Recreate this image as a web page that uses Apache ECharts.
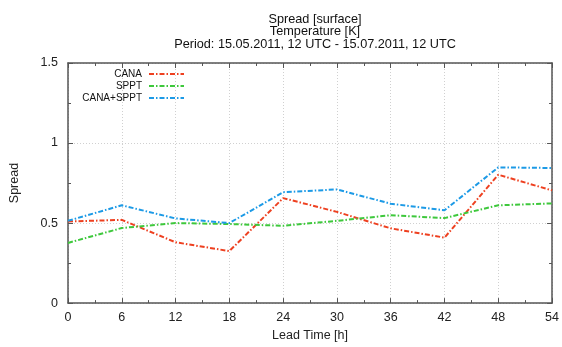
<!DOCTYPE html>
<html><head><meta charset="utf-8">
<script src="https://cdn.jsdelivr.net/npm/echarts@6/dist/echarts.min.js"></script>
<style>html,body{margin:0;padding:0;background:#fff}#c{width:562px;height:347px}</style>
</head><body><div id="c"></div>
<script>
const leadTimes = [0, 6, 12, 18, 24, 30, 36, 42, 48, 54];
const cana = [0.51, 0.52, 0.38, 0.325, 0.656, 0.57, 0.467, 0.409, 0.802, 0.704];
const sppt = [0.376, 0.469, 0.50, 0.494, 0.483, 0.514, 0.549, 0.531, 0.611, 0.623];
const canaSppt = [0.514, 0.611, 0.529, 0.50, 0.693, 0.71, 0.621, 0.58, 0.848, 0.844];
const seriesNames = ['CANA', 'SPPT', 'CANA+SPPT'];
const colors = ['#ee4020', '#3ec83c', '#1c9ae6'];
const titleLines = ['Spread [surface]', 'Temperature [K]', 'Period: 15.05.2011, 12 UTC - 15.07.2011, 12 UTC'];

const font = 'Liberation Sans, Arial, sans-serif';
const chart = echarts.init(document.getElementById('c'));
const pairs = arr => leadTimes.map((t, i) => [t, arr[i]]);
const dash = [5, 2, 1.5, 2];
const axisCol = '#555';
function mkX(pos, labels) {
  return {
    type: 'value', min: 0, max: 54, interval: 6, position: pos,
    name: labels ? 'Lead Time [h]' : '', nameLocation: 'middle', nameGap: 25,
    nameTextStyle: { fontFamily: font, fontSize: 12.5, color: '#222' },
    axisLine: { show: true, onZero: false, lineStyle: { color: axisCol, width: 1.5 } },
    axisTick: { show: true, inside: true, length: 5, lineStyle: { color: axisCol } },
    minorTick: { show: true, splitNumber: 2, length: 3, lineStyle: { color: axisCol } },
    axisLabel: { show: labels, fontFamily: font, fontSize: 12.5, color: '#222', margin: 8 },
    splitLine: { show: labels, lineStyle: { type: [1, 2], color: '#d0d0d0' } }
  };
}
function mkY(pos, labels) {
  return {
    type: 'value', min: 0, max: 1.5, interval: 0.5, position: pos,
    name: labels ? 'Spread' : '', nameLocation: 'middle', nameGap: 47,
    nameTextStyle: { fontFamily: font, fontSize: 12.5, color: '#222' },
    axisLine: { show: true, onZero: false, lineStyle: { color: axisCol, width: 1.5 } },
    axisTick: { show: true, inside: true, length: 5, lineStyle: { color: axisCol } },
    minorTick: { show: true, splitNumber: 2, length: 3, lineStyle: { color: axisCol } },
    axisLabel: { show: labels, fontFamily: font, fontSize: 12.5, color: '#222', margin: 10 },
    splitLine: { show: labels, lineStyle: { type: [1, 2], color: '#d0d0d0' } }
  };
}
const data = [cana, sppt, canaSppt];
const legendTops = [69, 81, 93];
chart.setOption({
  animation: false,
  textStyle: { fontFamily: font },
  title: {
    text: titleLines.join('\n'), left: 310, top: 8, textAlign: 'center',
    textStyle: { fontFamily: font, fontSize: 12.7, fontWeight: 'normal', color: '#111', lineHeight: 12.5 }
  },
  legend: seriesNames.map((n, i) => ({
    data: [n], right: 377, top: legendTops[i], align: 'right', orient: 'vertical',
    itemWidth: 35, itemHeight: 10, itemGap: 2, padding: 0,
    itemStyle: { opacity: 0 },
    textStyle: { fontFamily: font, fontSize: 10, color: '#111', padding: [0, 2, 0, 0] }
  })),
  grid: { left: 68, right: 9, top: 63, bottom: 42 },
  xAxis: [mkX('bottom', true), mkX('top', false)],
  yAxis: [mkY('left', true), mkY('right', false)],
  series: seriesNames.map((n, i) => ({
    name: n, type: 'line', data: pairs(data[i]), showSymbol: false, symbol: 'none',
    color: colors[i], lineStyle: { color: colors[i], width: 2, type: dash },
    xAxisIndex: 0, yAxisIndex: 0
  }))
});
</script></body></html>
